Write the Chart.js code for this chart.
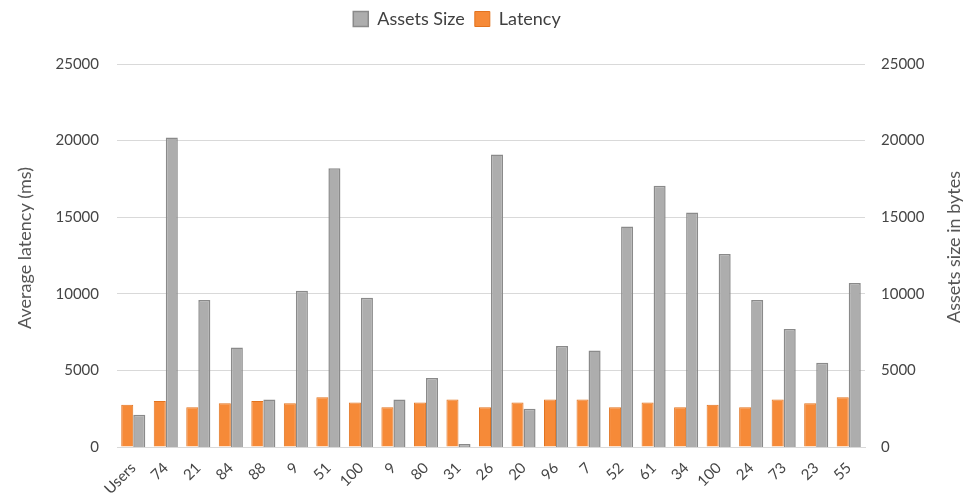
<!DOCTYPE html>
<html>
<head>
<meta charset="utf-8">
<script src="https://cdn.jsdelivr.net/npm/chart.js@4/dist/chart.umd.min.js"></script>
<style>
  html, body { margin: 0; padding: 0; background: #ffffff; }
  #wrap { width: 973px; height: 495px; position: relative; }
</style>
</head>
<body>
<div id="wrap"><canvas id="c" width="973" height="495"></canvas></div>
<script>
const categories = ["Users","74","21","84","88","9","51","100","9","80","31","26","20","96","7","52","61","34","100","24","73","23","55"];
const latency = [2750,3000,2600,2850,3000,2850,3250,2900,2600,2900,3100,2600,2900,3100,3100,2600,2900,2600,2750,2600,3100,2850,3250];
const assetsSize = [2100,20200,9600,6500,3100,10200,18200,9750,3100,4500,200,19100,2500,6600,6300,14400,17050,15300,12600,9600,7700,5500,10700];
const yTicks = [0,5000,10000,15000,20000,25000];
const leftTitle = 'Average latency (ms)';
const rightTitle = 'Assets size in bytes';

const FONT = "Lato, 'Open Sans', sans-serif";
const TXT = "#454545";
const TITLE = "#555555";

const layoutTweaks = {
  id: 'layoutTweaks',
  beforeInit(chart) {
    const lg = chart.legend;
    if (lg && !lg._patched) {
      const origFit = lg.fit.bind(lg);
      lg.fit = function () { origFit(); this.height = 64; this.minSize && (this.minSize.height = 64); };
      lg._patched = true;
    }
  },
  afterLayout(chart) {
    if (chart.legend) chart.legend.right = chart.width - 59;
  },
  afterDraw(chart) {
    const ctx = chart.ctx;
    ctx.save();
    ctx.fillStyle = TITLE;
    ctx.font = "18px " + FONT;
    ctx.textAlign = 'center';
    ctx.textBaseline = 'middle';
    ctx.save();
    ctx.translate(25, 248);
    ctx.rotate(-Math.PI / 2);
    ctx.fillText(leftTitle, 0, 0);
    ctx.restore();
    ctx.save();
    ctx.translate(954, 247);
    ctx.rotate(-Math.PI / 2);
    ctx.fillText(rightTitle, 0, 0);
    ctx.restore();
    ctx.restore();
  }
};

new Chart(document.getElementById('c'), {
  type: 'bar',
  data: {
    labels: categories,
    datasets: [
      { label: 'Latency', data: latency, yAxisID: 'yL',
        backgroundColor: '#f68a38', borderColor: '#e2731f', borderWidth: 1,
        categoryPercentage: 0.74, barPercentage: 1.0 },
      { label: 'Assets Size', data: assetsSize, yAxisID: 'yR',
        backgroundColor: '#adadad', borderColor: '#8a8a8a', borderWidth: 1.5,
        categoryPercentage: 0.74, barPercentage: 1.0 }
    ]
  },
  plugins: [layoutTweaks],
  options: {
    responsive: false,
    animation: false,
    devicePixelRatio: 1,
    layout: { padding: 0 },
    plugins: {
      legend: {
        position: 'top', reverse: true,
        labels: { boxWidth: 15, boxHeight: 15, padding: 10, color: '#404040',
          font: { family: FONT, size: 18 } }
      },
      tooltip: { enabled: false }
    },
    scales: {
      x: {
        grid: { display: false, drawTicks: false },
        border: { color: '#d9d9d9', width: 1 },
        ticks: { color: TXT, font: { family: FONT, size: 15 }, maxRotation: 45, minRotation: 45, padding: 12, autoSkip: false },
        afterFit: s => { s.height = 48; }
      },
      yL: {
        position: 'left', min: 0, max: 25000,
        afterBuildTicks: s => { s.ticks = yTicks.map(v => ({ value: v })); },
        grid: { color: '#d9d9d9', drawTicks: false },
        border: { display: false },
        ticks: { color: TXT, font: { family: FONT, size: 15 }, padding: 18, callback: v => String(v) },
        afterFit: s => { s.width = 117; }
      },
      yR: {
        position: 'right', min: 0, max: 25000,
        afterBuildTicks: s => { s.ticks = yTicks.map(v => ({ value: v })); },
        grid: { display: false, drawTicks: false },
        border: { display: false },
        ticks: { color: TXT, font: { family: FONT, size: 15 }, padding: 16, callback: v => String(v) },
        afterFit: s => { s.width = 108; }
      }
    }
  }
});
</script>
</body>
</html>
